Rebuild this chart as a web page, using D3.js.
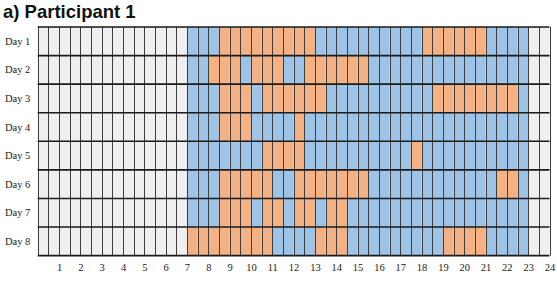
<!DOCTYPE html>
<html>
<head>
<meta charset="utf-8">
<script src="https://cdn.jsdelivr.net/npm/d3@7"></script>
<style>
  html, body { margin: 0; padding: 0; background: #ffffff; }
  svg { display: block; }
</style>
</head>
<body>
<svg id="chart" width="557" height="283"></svg>
<script>
// ---- data ----
const title = "a) Participant 1";
const dayLabels = ["Day 1", "Day 2", "Day 3", "Day 4", "Day 5", "Day 6", "Day 7", "Day 8"];
// one letter per half-hour slot (00:00 -> 24:00): G = no record, B = blue state, O = orange state
const dayStates = [
  "GGGGGGGGGGGGGG BBB OOOOOOOOO BBBBBBBBBB OOOOOO BBBB GG",
  "GGGGGGGGGGGGGG BB OOO B OOO BB OOOOOO BBBBBBBBBBBBBBB GG",
  "GGGGGGGGGGGGGG BBB OOO B OOOOOO BBBBBBBBBB OOOOOOOO B GG",
  "GGGGGGGGGGGGGG BBB OOO BBBB O BBBBBBBBBBBBBBBBBBBBB GG",
  "GGGGGGGGGGGGGG BBBBBBB OOOO BBBBBBBBBB O BBBBBBBBBB GG",
  "GGGGGGGGGGGGGG BBB OOOOO BB OOOOOOO BBBBBBBBBBBB OO B GG",
  "GGGGGGGGGGGGGG BBB OOO B OO B OO B OO BBBBBBBBBBBBBBBBB GG",
  "GGGGGGGGGGGGGG OOOOOOOO BBBB OOO BBBBBBBBB OOOO BBBB GG"
];
const hourTicks = [1,2,3,4,5,6,7,8,9,10,11,12,13,14,15,16,17,18,19,20,21,22,23,24];
const slotsPerHour = 2;
const stateColors = { G: "#efefef", B: "#9dc3e6", O: "#f4b183" };

// ---- layout ----
const svg = d3.select("#chart");
const x = d3.scaleLinear().domain([0, 24]).range([37.7, 549.5]);
const y = d3.scaleBand().domain(dayLabels).range([27, 255.6]).padding(0);

const cells = [];
dayStates.forEach((s, di) => {
  s.replace(/\s+/g, "").split("").forEach((c, si) => {
    cells.push({ day: dayLabels[di], start: si / slotsPerHour, end: (si + 1) / slotsPerHour, state: c });
  });
});

svg.append("g").selectAll("rect").data(cells).join("rect")
  .attr("x", d => x(d.start))
  .attr("y", d => y(d.day))
  .attr("width", d => x(d.end) - x(d.start))
  .attr("height", y.bandwidth())
  .attr("fill", d => stateColors[d.state]);

// vertical slot lines
const slotBounds = d3.range(0, 24 * slotsPerHour + 1).map(i => i / slotsPerHour);
svg.append("g").selectAll("line").data(slotBounds).join("line")
  .attr("x1", d => Math.round(x(d)) + 0.5).attr("x2", d => Math.round(x(d)) + 0.5)
  .attr("y1", y.range()[0]).attr("y2", y.range()[1])
  .attr("stroke", "#3c3c3c").attr("stroke-width", 1);

// horizontal row lines
const rowBounds = dayLabels.map(d => y(d)).concat([y.range()[1]]);
svg.append("g").selectAll("line").data(rowBounds).join("line")
  .attr("x1", x(0)).attr("x2", x(24))
  .attr("y1", d => d).attr("y2", d => d)
  .attr("stroke", "#1a1a1a").attr("stroke-width", 1.6);

// day labels
svg.append("g").selectAll("text").data(dayLabels).join("text")
  .attr("x", 5)
  .attr("y", d => y(d) + y.bandwidth() / 2 + 3.5)
  .attr("font-family", "'Liberation Serif', 'Times New Roman', serif")
  .attr("font-size", "10.5px")
  .attr("fill", "#222")
  .text(d => d);

// hour axis
const axis = d3.axisBottom(x).tickValues(hourTicks).tickSize(0).tickPadding(8).tickFormat(d3.format("d"));
const gx = svg.append("g").attr("transform", `translate(0,${y.range()[1]})`).call(axis);
gx.select(".domain").remove();
gx.selectAll("text")
  .attr("font-family", "'Liberation Serif', 'Times New Roman', serif")
  .attr("font-size", "10.5px")
  .attr("fill", "#222");

// title
svg.append("text")
  .attr("x", 3).attr("y", 18)
  .attr("font-family", "'Liberation Sans', Arial, sans-serif")
  .attr("font-weight", "bold")
  .attr("font-size", "18.5px")
  .attr("fill", "#111")
  .text(title);
</script>
</body>
</html>
